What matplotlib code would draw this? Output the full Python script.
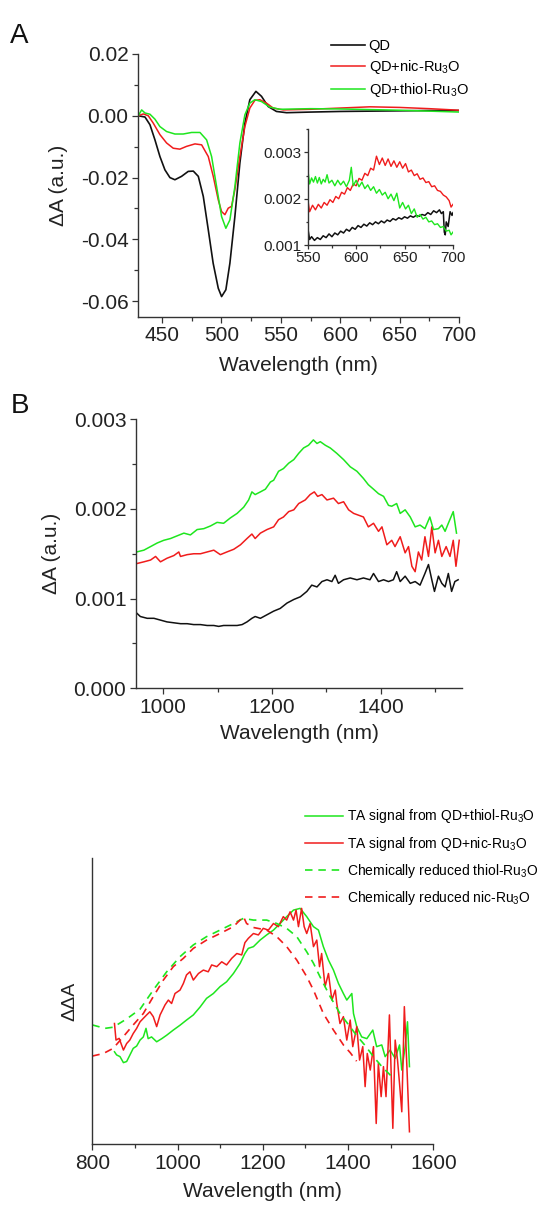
import matplotlib
matplotlib.use('Agg')
import matplotlib.pyplot as plt
from matplotlib.ticker import MultipleLocator, FormatStrFormatter, NullLocator

plt.rcParams['font.family'] = ['Liberation Sans', 'DejaVu Sans']
plt.rcParams['mathtext.fontset'] = 'custom'
plt.rcParams['mathtext.rm'] = 'Liberation Sans'
plt.rcParams['mathtext.it'] = 'Liberation Sans:italic'
plt.rcParams['axes.unicode_minus'] = False

RED = '#f01c1c'
GREEN = '#1ee61e'
BLACK = '#111111'
AXC = '#333333'

# ---- panel A, main spectra (nm, dA) ----
a_wl_qd = [430, 435.6, 439.8, 444, 448.2, 452.4, 456.6, 460.8, 466.4, 472, 476.3, 480.5, 484.7, 488.9, 493,
           497.3, 500.1, 503.7, 507.1, 511.3, 515.5, 519.7, 523.9, 529, 533.7, 539.3, 546.3, 554.8,
           575, 600, 625, 650, 675, 700]
a_qd = [0, -0.0004, -0.0029, -0.0078, -0.0132, -0.0175, -0.0200, -0.0207, -0.0196, -0.0180, -0.0179, -0.0196,
        -0.0261, -0.0369, -0.0477, -0.0558, -0.0585, -0.0563, -0.0477, -0.0326, -0.0153, -0.0024, 0.0052,
        0.0079, 0.0063, 0.0030, 0.0014, 0.0010, 0.0012, 0.0014, 0.0015, 0.0016, 0.0017, 0.0017]

a_wl_nic = [430, 434.2, 438.4, 442.6, 448.2, 453.8, 459.4, 465, 470.6, 477.7, 483.3, 488.9, 493.1, 497.3,
            500.1, 502.9, 505.7, 508.5, 511.3, 515.5, 519.7, 523.9, 528.1, 532.3, 537.9, 543.5, 552,
            575, 600, 625, 650, 675, 700]
a_nic = [0, 0.0006, 0, -0.0024, -0.0061, -0.0088, -0.0105, -0.0108, -0.0099, -0.0091, -0.0094, -0.0132,
         -0.0196, -0.0272, -0.0310, -0.0320, -0.0299, -0.0293, -0.0239, -0.0132, -0.0035, 0.0025, 0.0050,
         0.0052, 0.0041, 0.0025, 0.0019, 0.0021, 0.0025, 0.0029, 0.0027, 0.0023, 0.0018]

a_wl_thiol = [430, 432.8, 435.6, 439.8, 444, 448.2, 453.8, 460.8, 467.8, 474.9, 481.9, 487.5, 491.7, 495.9,
              500.1, 503.7, 507.1, 511.3, 515.5, 519.7, 523.9, 528.1, 533.7, 540.7, 549.1,
              575, 600, 625, 650, 675, 700]
a_thiol = [0, 0.0019, 0.0009, 0.0005, -0.0011, -0.0035, -0.0051, -0.0059, -0.0059, -0.0054, -0.0054,
           -0.0078, -0.0132, -0.0229, -0.0326, -0.0364, -0.0337, -0.0229, -0.0088, 0.0003, 0.0041, 0.0052,
           0.0046, 0.0028, 0.0021, 0.0023, 0.0022, 0.0020, 0.0018, 0.0015, 0.0012]

# ---- panel A, inset 550-700 nm ----
in_wl_nic = [550, 552, 555, 558, 561, 564, 567, 570, 573, 576, 579, 582, 585, 588, 591, 594, 597, 600, 603,
             606, 609, 612, 615, 618, 621, 624, 627, 630, 633, 636, 639, 642, 645, 648, 651, 654, 657, 660,
             663, 666, 669, 672, 675, 678, 681, 684, 687, 690, 693, 696, 698, 700]
in_nic = [0.00200, 0.00172, 0.00186, 0.00176, 0.00188, 0.00180, 0.00192, 0.00186, 0.00198, 0.00192, 0.00205,
          0.00200, 0.00214, 0.00210, 0.00224, 0.00218, 0.00232, 0.00228, 0.00244, 0.00240, 0.00255, 0.00250,
          0.00266, 0.00262, 0.00292, 0.00274, 0.00288, 0.00272, 0.00286, 0.00270, 0.00282, 0.00268, 0.00280,
          0.00266, 0.00276, 0.00258, 0.00262, 0.00250, 0.00254, 0.00242, 0.00245, 0.00235, 0.00237, 0.00226,
          0.00228, 0.00218, 0.00216, 0.00208, 0.00204, 0.00196, 0.00182, 0.00188]

in_wl_thiol = [550, 552, 554, 556, 558, 560, 562, 564, 566, 568, 570, 572, 575, 578, 581, 584, 587, 590, 593,
               595, 597, 600, 603, 606, 609, 612, 615, 618, 621, 624, 627, 630, 633, 636, 639, 642, 645, 648,
               651, 654, 657, 660, 663, 666, 669, 672, 675, 678, 681, 684, 687, 690, 693, 696, 698, 700]
in_thiol = [0.00265, 0.00232, 0.00245, 0.00236, 0.00248, 0.00234, 0.00246, 0.00232, 0.00242, 0.00236, 0.00252,
            0.00234, 0.00240, 0.00228, 0.00240, 0.00230, 0.00238, 0.00226, 0.00240, 0.00268, 0.00228, 0.00240,
            0.00226, 0.00236, 0.00222, 0.00230, 0.00218, 0.00226, 0.00212, 0.00220, 0.00208, 0.00214, 0.00200,
            0.00210, 0.00196, 0.00212, 0.00180, 0.00192, 0.00178, 0.00186, 0.00168, 0.00178, 0.00160, 0.00166,
            0.00156, 0.00160, 0.00150, 0.00152, 0.00144, 0.00146, 0.00138, 0.00140, 0.00130, 0.00132, 0.00122,
            0.00128]

in_wl_qd = [550, 552, 554, 557, 560, 563, 566, 569, 572, 575, 578, 581, 584, 587, 590, 593, 596, 599, 602,
            605, 608, 611, 614, 617, 620, 623, 626, 629, 632, 635, 638, 641, 644, 647, 650, 653, 656, 659,
            662, 665, 668, 671, 674, 677, 680, 683, 686, 688, 690, 691, 692, 693, 695, 697, 699, 700]
in_qd = [0.00138, 0.00112, 0.00118, 0.00110, 0.00116, 0.00112, 0.00120, 0.00116, 0.00124, 0.00118, 0.00126,
         0.00122, 0.00130, 0.00126, 0.00134, 0.00130, 0.00138, 0.00134, 0.00142, 0.00138, 0.00145, 0.00141,
         0.00148, 0.00144, 0.00150, 0.00146, 0.00152, 0.00148, 0.00154, 0.00151, 0.00157, 0.00154, 0.00159,
         0.00156, 0.00161, 0.00158, 0.00163, 0.00160, 0.00164, 0.00162, 0.00166, 0.00164, 0.00170, 0.00166,
         0.00174, 0.00170, 0.00176, 0.00168, 0.00172, 0.00128, 0.00122, 0.00150, 0.00140, 0.00172, 0.00164,
         0.00170]

# ---- panel B, NIR spectra ----
b_wl_thiol = [951, 964.5, 976.8, 989, 1001, 1013.5, 1025.7, 1038, 1050, 1062.4, 1074.6, 1086.9, 1099, 1111,
              1123.5, 1135.8, 1148, 1157, 1163, 1169, 1178.6, 1187.8, 1197, 1203, 1212, 1221, 1230.6, 1240,
              1249, 1258, 1267, 1276, 1282.6, 1288.7, 1298, 1307, 1319, 1331.5, 1343.7, 1356, 1368, 1377,
              1386.5, 1395.7, 1405, 1414, 1420, 1429, 1435.5, 1444.6, 1454, 1463, 1472, 1481, 1490, 1496.6,
              1505.8, 1512, 1518, 1524, 1533, 1539]
b_thiol = [0.00152, 0.00154, 0.00158, 0.00162, 0.00165, 0.00167, 0.00170, 0.00173, 0.00171, 0.00177, 0.00178,
           0.00181, 0.00185, 0.00184, 0.00190, 0.00195, 0.00202, 0.00210, 0.00219, 0.00216, 0.00219, 0.00222,
           0.00230, 0.00232, 0.00242, 0.00245, 0.00251, 0.00255, 0.00262, 0.00268, 0.00271, 0.00277, 0.00273,
           0.00275, 0.00271, 0.00268, 0.00262, 0.00255, 0.00247, 0.00242, 0.00234, 0.00227, 0.00222, 0.00217,
           0.00214, 0.00204, 0.00203, 0.00206, 0.00195, 0.00199, 0.00191, 0.00180, 0.00182, 0.00178, 0.00191,
           0.00177, 0.00178, 0.00182, 0.00175, 0.00184, 0.00197, 0.00173]

b_wl_nic = [951, 964.5, 976.8, 986, 995, 1007, 1019.6, 1028.7, 1031.8, 1044, 1056, 1068.5, 1080.7, 1093, 1105,
            1117, 1129.7, 1142, 1154, 1163, 1169, 1178.6, 1190.8, 1203, 1212, 1221, 1230.6, 1240, 1249, 1261,
            1270, 1277.7, 1283.8, 1291.7, 1301, 1313, 1322, 1331.5, 1340.7, 1350, 1359, 1368, 1377, 1386.5,
            1395.7, 1402, 1411, 1420, 1426, 1435.5, 1444.6, 1450.8, 1457, 1463, 1469, 1475, 1481, 1487.5,
            1493.6, 1499.7, 1505.8, 1512, 1520, 1527, 1533, 1538, 1544]
b_nic = [0.00139, 0.00141, 0.00143, 0.00147, 0.00141, 0.00145, 0.00148, 0.00152, 0.00147, 0.00149, 0.00150,
         0.00150, 0.00152, 0.00154, 0.00149, 0.00152, 0.00155, 0.00160, 0.00167, 0.00172, 0.00167, 0.00173,
         0.00177, 0.00180, 0.00188, 0.00191, 0.00197, 0.00199, 0.00206, 0.00210, 0.00216, 0.00219, 0.00214,
         0.00216, 0.00210, 0.00212, 0.00206, 0.00208, 0.00199, 0.00195, 0.00193, 0.00191, 0.00180, 0.00184,
         0.00175, 0.00180, 0.00160, 0.00165, 0.00158, 0.00169, 0.00151, 0.00158, 0.00136, 0.00130, 0.00152,
         0.00143, 0.00169, 0.00147, 0.00180, 0.00151, 0.00165, 0.00147, 0.00158, 0.00147, 0.00165, 0.00136,
         0.00165]

b_wl_qd = [951, 958, 970.6, 983, 995, 1007, 1019.6, 1032, 1044, 1056, 1068.5, 1080.7, 1093, 1102, 1111, 1123.5,
           1135.8, 1145, 1154, 1163, 1169, 1178.6, 1190.8, 1203, 1215, 1227.5, 1240, 1252, 1264, 1273, 1282.6,
           1291.7, 1301, 1310, 1316, 1322, 1331.5, 1343.7, 1356, 1368, 1380, 1386.5, 1395.7, 1405, 1414, 1423,
           1429, 1435.5, 1444.6, 1454, 1463, 1472, 1481, 1487.5, 1493.6, 1498.5, 1505.8, 1512, 1518, 1524,
           1530, 1536, 1542]
b_qd = [0.00084, 0.00080, 0.00078, 0.00078, 0.00076, 0.00074, 0.00073, 0.00072, 0.00072, 0.00071, 0.00071,
        0.00070, 0.00070, 0.00069, 0.00070, 0.00070, 0.00070, 0.00071, 0.00074, 0.00078, 0.00080, 0.00078,
        0.00082, 0.00086, 0.00089, 0.00095, 0.00099, 0.00102, 0.00108, 0.00115, 0.00113, 0.00119, 0.00121,
        0.00119, 0.00126, 0.00117, 0.00121, 0.00123, 0.00121, 0.00123, 0.00121, 0.00128, 0.00119, 0.00121,
        0.00119, 0.00121, 0.00130, 0.00119, 0.00125, 0.00117, 0.00119, 0.00115, 0.00128, 0.00138, 0.00121,
        0.00108, 0.00125, 0.00117, 0.00113, 0.00128, 0.00108, 0.00119, 0.00121]

# ---- panel C, normalised difference spectra (arb. units) ----
c_wl_ta_thiol = [852, 857, 865, 873, 880.6, 888, 896, 904, 912, 919.7, 926, 931, 939, 951, 963, 974.5, 990,
                 1005.8, 1021, 1037, 1053, 1068, 1084, 1099.7, 1115, 1131, 1146.6, 1158, 1166, 1178, 1193.6,
                 1209, 1225, 1240.5, 1256, 1272, 1287.5, 1303, 1318.8, 1330.5, 1342, 1354, 1365.7, 1377.5,
                 1389, 1397, 1408.8, 1412.7, 1420.5, 1432, 1444, 1458, 1467, 1479, 1487, 1498.7, 1510.5,
                 1520.7, 1526, 1534, 1539.4, 1544]
c_ta_thiol = [0.323, 0.312, 0.306, 0.285, 0.289, 0.311, 0.335, 0.343, 0.364, 0.375, 0.405, 0.369, 0.375,
              0.358, 0.369, 0.381, 0.399, 0.416, 0.434, 0.452, 0.480, 0.510, 0.527, 0.551, 0.568, 0.597,
              0.632, 0.667, 0.685, 0.691, 0.714, 0.732, 0.749, 0.772, 0.796, 0.819, 0.825, 0.796, 0.761,
              0.749, 0.691, 0.644, 0.609, 0.562, 0.527, 0.504, 0.527, 0.457, 0.410, 0.375, 0.369, 0.399,
              0.341, 0.347, 0.306, 0.329, 0.300, 0.347, 0.259, 0.341, 0.428, 0.271]

c_wl_ta_nic = [852, 855.6, 863, 873, 880.6, 888, 896, 904, 912, 919.7, 927.5, 935, 943, 951, 959, 970.6, 978.4,
               986, 994, 1005.8, 1013.6, 1021, 1029, 1037, 1049, 1060.6, 1072, 1080, 1092, 1103.6, 1115,
               1127, 1139, 1150.5, 1158, 1166, 1178, 1189.6, 1201, 1213, 1225, 1236.6, 1248, 1256, 1264,
               1272, 1278, 1283.6, 1291, 1297, 1303, 1311, 1318.8, 1326.6, 1333, 1338, 1346, 1354, 1362,
               1370, 1373.5, 1381, 1389, 1397, 1405, 1411, 1420.5, 1427, 1434.5, 1440, 1445, 1452, 1459.6,
               1466, 1471, 1477.6, 1483, 1489, 1497, 1505, 1510.5, 1516, 1520.7, 1526, 1532, 1538, 1544]
c_ta_nic = [0.422, 0.364, 0.370, 0.329, 0.352, 0.364, 0.387, 0.405, 0.428, 0.440, 0.452, 0.463, 0.446,
            0.411, 0.452, 0.487, 0.504, 0.492, 0.527, 0.539, 0.562, 0.592, 0.603, 0.574, 0.597, 0.609,
            0.603, 0.627, 0.621, 0.638, 0.627, 0.650, 0.667, 0.662, 0.705, 0.720, 0.737, 0.732, 0.755,
            0.749, 0.772, 0.761, 0.796, 0.784, 0.813, 0.784, 0.819, 0.761, 0.825, 0.761, 0.737, 0.772,
            0.691, 0.714, 0.621, 0.667, 0.551, 0.597, 0.504, 0.539, 0.492, 0.422, 0.446, 0.364, 0.434,
            0.341, 0.411, 0.294, 0.341, 0.201, 0.317, 0.259, 0.341, 0.072, 0.282, 0.166, 0.271, 0.166,
            0.452, 0.055, 0.364, 0.294, 0.212, 0.113, 0.481, 0.271, 0.043]

c_wl_red_thiol = [800, 829.7, 849, 880.6, 912, 943, 974.5, 1005.8, 1037, 1068, 1099.7, 1131, 1154.5, 1178,
                  1209, 1232.7, 1256, 1279.7, 1303, 1318.8, 1334, 1358, 1381, 1405, 1420, 1440, 1460, 1480,
                  1500]
c_red_thiol = [0.417, 0.405, 0.409, 0.438, 0.472, 0.539, 0.603, 0.656, 0.697, 0.726, 0.749, 0.772, 0.790,
               0.784, 0.784, 0.772, 0.755, 0.726, 0.673, 0.633, 0.586, 0.516, 0.457, 0.410, 0.380, 0.345,
               0.305, 0.270, 0.240]

c_wl_red_nic = [800, 826, 849, 872.8, 896, 919.7, 943, 966.7, 990, 1013.6, 1037, 1068, 1099.7, 1131, 1154.5,
                1162, 1178, 1209, 1232.7, 1256, 1279.7, 1303, 1318.8, 1342, 1365.7, 1390, 1405, 1420]
c_red_nic = [0.308, 0.317, 0.335, 0.376, 0.417, 0.457, 0.516, 0.574, 0.621, 0.650, 0.685, 0.714, 0.737,
             0.761, 0.796, 0.772, 0.758, 0.749, 0.726, 0.691, 0.644, 0.586, 0.539, 0.457, 0.399, 0.345,
             0.320, 0.290]

panel_lbl = ['A', 'B']
leg_a = ['QD', 'QD+nic-Ru$_3$O', 'QD+thiol-Ru$_3$O']
leg_c = ['TA signal from QD+thiol-Ru$_3$O', 'TA signal from QD+nic-Ru$_3$O',
         'Chemically reduced thiol-Ru$_3$O', 'Chemically reduced nic-Ru$_3$O']


def style(ax, fs):
    for s in ['top', 'right']:
        ax.spines[s].set_visible(False)
    for s in ['left', 'bottom']:
        ax.spines[s].set_color(AXC)
        ax.spines[s].set_linewidth(1.0)
    ax.tick_params(which='both', direction='out', colors=AXC, labelcolor='#222222', width=0.9, labelsize=fs)
    ax.tick_params(which='major', length=4.5, pad=2.5)
    ax.tick_params(which='minor', length=2.6)


fig = plt.figure(figsize=(5.42, 12.10), dpi=100)

# ---------------- A ----------------
axA = fig.add_axes([0.2552, 0.7383, 0.5917, 0.2171])
axA.plot(a_wl_qd, a_qd, color=BLACK, lw=1.2, label=leg_a[0])
axA.plot(a_wl_nic, a_nic, color=RED, lw=1.1, label=leg_a[1])
axA.plot(a_wl_thiol, a_thiol, color=GREEN, lw=1.1, label=leg_a[2])
axA.set_xlim(430, 700)
axA.set_ylim(-0.065, 0.02)
axA.xaxis.set_major_locator(MultipleLocator(50))
axA.xaxis.set_minor_locator(MultipleLocator(25))
axA.yaxis.set_major_locator(MultipleLocator(0.02))
axA.yaxis.set_minor_locator(MultipleLocator(0.01))
axA.yaxis.set_major_formatter(FormatStrFormatter('%.2f'))
style(axA, 15)
axA.set_xlabel('Wavelength (nm)', fontsize=15, labelpad=8, color='#222222')
axA.set_ylabel('\u0394A (a.u.)', fontsize=15, labelpad=9, color='#222222')
axA.legend(loc='upper left', bbox_to_anchor=(0.610, 0.9680), bbox_transform=fig.transFigure,
           frameon=False, fontsize=10.5, borderpad=0, borderaxespad=0, handlelength=2.35,
           handletextpad=0.25, labelspacing=0.35)

axI = fig.add_axes([0.5677, 0.7975, 0.2681, 0.0956])
axI.plot(in_wl_qd, in_qd, color=BLACK, lw=1.1)
axI.plot(in_wl_nic, in_nic, color=RED, lw=1.0)
axI.plot(in_wl_thiol, in_thiol, color=GREEN, lw=1.0)
axI.set_xlim(550, 700)
axI.set_ylim(0.001, 0.0035)
axI.xaxis.set_major_locator(MultipleLocator(50))
axI.xaxis.set_minor_locator(MultipleLocator(25))
axI.yaxis.set_major_locator(MultipleLocator(0.001))
axI.yaxis.set_minor_locator(MultipleLocator(0.0005))
axI.yaxis.set_major_formatter(FormatStrFormatter('%.3f'))
style(axI, 11)
axI.patch.set_alpha(0)
axI.tick_params(which='major', length=3, pad=1.5)
axI.tick_params(which='minor', length=1.8)

# ---------------- B ----------------
axB = fig.add_axes([0.2509, 0.4312, 0.6024, 0.2223])
axB.plot(b_wl_qd, b_qd, color=BLACK, lw=1.1)
axB.plot(b_wl_nic, b_nic, color=RED, lw=1.1)
axB.plot(b_wl_thiol, b_thiol, color=GREEN, lw=1.1)
axB.set_xlim(950, 1550)
axB.set_ylim(0, 0.003)
axB.xaxis.set_major_locator(MultipleLocator(200))
axB.xaxis.set_minor_locator(MultipleLocator(100))
axB.yaxis.set_major_locator(MultipleLocator(0.001))
axB.yaxis.set_minor_locator(MultipleLocator(0.0005))
axB.yaxis.set_major_formatter(FormatStrFormatter('%.3f'))
style(axB, 15)
axB.set_xlabel('Wavelength (nm)', fontsize=15, labelpad=5, color='#222222')
axB.set_ylabel('\u0394A (a.u.)', fontsize=15, labelpad=9, color='#222222')

# ---------------- C ----------------
axC = fig.add_axes([0.1703, 0.0545, 0.6292, 0.2361])
axC.plot(c_wl_ta_thiol, c_ta_thiol, color=GREEN, lw=1.1, label=leg_c[0])
axC.plot(c_wl_ta_nic, c_ta_nic, color=RED, lw=1.1, label=leg_c[1])
axC.plot(c_wl_red_thiol, c_red_thiol, color=GREEN, lw=1.2, ls=(0, (4.5, 3.5)), label=leg_c[2])
axC.plot(c_wl_red_nic, c_red_nic, color=RED, lw=1.2, ls=(0, (4.5, 3.5)), label=leg_c[3])
axC.set_xlim(800, 1600)
axC.set_ylim(0, 1)
axC.xaxis.set_major_locator(MultipleLocator(200))
axC.xaxis.set_minor_locator(MultipleLocator(100))
axC.yaxis.set_major_locator(NullLocator())
axC.yaxis.set_minor_locator(NullLocator())
style(axC, 15)
axC.set_xlabel('Wavelength (nm)', fontsize=15, labelpad=7, color='#222222')
axC.set_ylabel('\u0394\u0394A', fontsize=14, labelpad=10, color='#222222')
axC.legend(loc='upper left', bbox_to_anchor=(0.5627, 0.3327), bbox_transform=fig.transFigure,
           frameon=False, fontsize=10, borderpad=0, borderaxespad=0, handlelength=2.75,
           handletextpad=0.3, labelspacing=0.66)

fig.text(0.0192, 1 - 43 / 1210, panel_lbl[0], fontsize=20, color='#111111', va='baseline')
fig.text(0.0203, 1 - 413 / 1210, panel_lbl[1], fontsize=20, color='#111111', va='baseline')

fig.savefig('out.png', dpi=100, facecolor='white')
